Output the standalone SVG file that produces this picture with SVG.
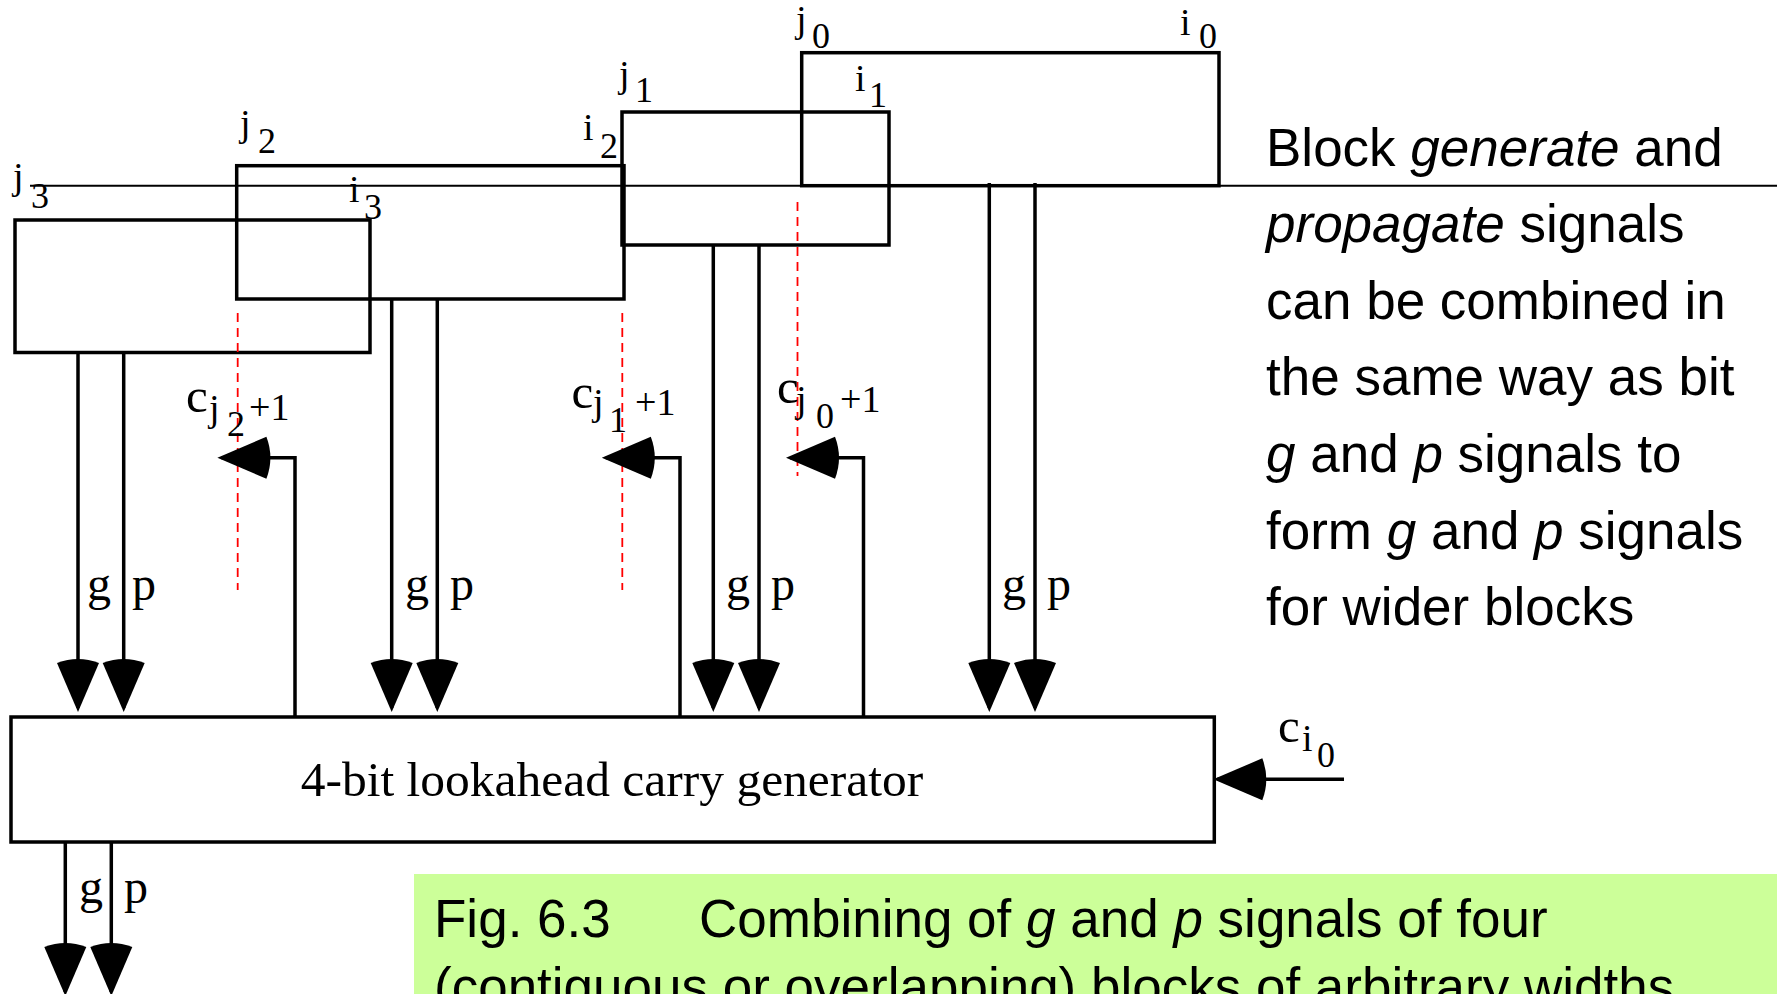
<svg xmlns="http://www.w3.org/2000/svg" width="1777" height="994" viewBox="0 0 1777 994">
<style>
.box{fill:none;stroke:#000;stroke-width:3.5}
.w{fill:none;stroke:#000;stroke-width:3.5}
.thin{fill:none;stroke:#000;stroke-width:2}
.dash{fill:none;stroke:#f00;stroke-width:1.8;stroke-dasharray:9 6}
.lb{font-family:"Liberation Serif",serif;fill:#000}
.L{font-size:38px}
.S{font-size:36px}
.C{font-size:49px}
.P{font-size:38px}
.gp{font-family:"Liberation Serif",serif;font-size:48px}
.sans{font-family:"Liberation Sans",Arial,sans-serif;font-size:53px;fill:#000}
.it{font-style:italic}
</style>
<defs>
<marker id="ah" markerUnits="userSpaceOnUse" viewBox="-60 -25 64 50" markerWidth="64" markerHeight="50" refX="-4" refY="0" orient="auto">
<path d="M0,0 L-49,-21 Q-57,0 -49,21 Z" fill="#000"/>
</marker>
</defs>
<rect x="0" y="0" width="1777" height="994" fill="#fff"/>

<g id="baseline-rule"><line class="thin" x1="30" y1="185.7" x2="1777" y2="185.7"/></g>

<g id="block0">
<rect class="box" x="801.7" y="52.7" width="417.3" height="133"/>
<text class="lb L" x="796" y="32">j</text><text class="lb S" x="812" y="48">0</text>
<text class="lb L" x="1180" y="35">i</text><text class="lb S" x="1199" y="48">0</text>
</g>
<g id="block1">
<rect class="box" x="622" y="112" width="267" height="133"/>
<text class="lb L" x="619" y="87">j</text><text class="lb S" x="635" y="102">1</text>
<text class="lb L" x="855" y="91">i</text><text class="lb S" x="869" y="107">1</text>
</g>
<g id="block2">
<rect class="box" x="236.7" y="165.7" width="387.3" height="133.3"/>
<text class="lb L" x="240" y="136">j</text><text class="lb S" x="258" y="153">2</text>
<text class="lb L" x="583" y="140">i</text><text class="lb S" x="600" y="158">2</text>
</g>
<g id="block3">
<rect class="box" x="15" y="220" width="355" height="132.5"/>
<text class="lb L" x="13" y="189">j</text><text class="lb S" x="31" y="208">3</text>
<text class="lb L" x="349" y="202">i</text><text class="lb S" x="364" y="219">3</text>
</g>

<g id="boundaries">
<line class="dash" x1="237.7" y1="313" x2="237.7" y2="590"/>
<line class="dash" x1="622.3" y1="313" x2="622.3" y2="590"/>
<line class="dash" x1="797.5" y1="202" x2="797.5" y2="476"/>
</g>

<g id="lookahead">
<rect class="box" x="11" y="717" width="1203.3" height="125"/>
<text class="lb" x="612" y="796" font-size="49.5" text-anchor="middle">4-bit lookahead carry generator</text>
</g>

<g id="connectors">
<line class="w" x1="78" y1="352" x2="78" y2="708" marker-end="url(#ah)"/>
<line class="w" x1="123.7" y1="352" x2="123.7" y2="708" marker-end="url(#ah)"/>
<line class="w" x1="391.7" y1="299" x2="391.7" y2="708" marker-end="url(#ah)"/>
<line class="w" x1="437.3" y1="299" x2="437.3" y2="708" marker-end="url(#ah)"/>
<line class="w" x1="713.3" y1="245" x2="713.3" y2="708" marker-end="url(#ah)"/>
<line class="w" x1="759" y1="245" x2="759" y2="708" marker-end="url(#ah)"/>
<line class="w" x1="989.3" y1="183" x2="989.3" y2="708" marker-end="url(#ah)"/>
<line class="w" x1="1035" y1="183" x2="1035" y2="708" marker-end="url(#ah)"/>
<line class="w" x1="65.3" y1="842" x2="65.3" y2="992" marker-end="url(#ah)"/>
<line class="w" x1="111.3" y1="842" x2="111.3" y2="992" marker-end="url(#ah)"/>
<path class="w" d="M295,717 V457.7 H221.4" marker-end="url(#ah)"/>
<path class="w" d="M680,717 V457.7 H605.8" marker-end="url(#ah)"/>
<path class="w" d="M863.5,717 V457.7 H790" marker-end="url(#ah)"/>
<path class="w" d="M1344,779.3 H1217.3" marker-end="url(#ah)"/>
</g>

<g id="signal-labels" class="gp">
<text x="87" y="600">g</text><text x="132" y="600">p</text>
<text x="405" y="600">g</text><text x="450" y="600">p</text>
<text x="726" y="600">g</text><text x="771" y="600">p</text>
<text x="1002" y="600">g</text><text x="1047" y="600">p</text>
<text x="79" y="903">g</text><text x="124" y="903">p</text>
</g>

<g id="carry-labels">
<text class="lb C" x="186" y="411.7">c</text><text class="lb L" x="209" y="420.5">j</text><text class="lb S" x="227" y="436">2</text><text class="lb P" x="249" y="420">+1</text>
<text class="lb C" x="571.5" y="408.3">c</text><text class="lb L" x="593" y="415">j</text><text class="lb S" x="609" y="431.7">1</text><text class="lb P" x="635" y="415">+1</text>
<text class="lb C" x="777" y="403.3">c</text><text class="lb L" x="796" y="412">j</text><text class="lb S" x="816" y="428.3">0</text><text class="lb P" x="840" y="411.7">+1</text>
<text class="lb C" x="1278" y="741.7">c</text><text class="lb L" x="1302" y="751">i</text><text class="lb S" x="1317" y="766.7">0</text>
</g>

<g id="note" class="sans">
<text x="1266" y="165.5">Block <tspan class="it">generate</tspan> and</text>
<text x="1266" y="242.1"><tspan class="it">propagate</tspan> signals</text>
<text x="1266" y="318.7">can be combined in</text>
<text x="1266" y="395.3">the same way as bit</text>
<text x="1266" y="471.9"><tspan class="it">g</tspan> and <tspan class="it">p</tspan> signals to</text>
<text x="1266" y="548.5">form <tspan class="it">g</tspan> and <tspan class="it">p</tspan> signals</text>
<text x="1266" y="625.1">for wider blocks</text>
</g>

<g id="caption">
<rect x="414" y="874" width="1363" height="120" fill="#ccff99"/>
<text class="sans" x="434" y="936.7">Fig. 6.3<tspan x="699">Combining of </tspan><tspan class="it">g</tspan> and <tspan class="it">p</tspan> signals of four</text>
<text class="sans" x="434" y="1005">(contiguous or overlapping) blocks of arbitrary widths</text>
</g>
</svg>
